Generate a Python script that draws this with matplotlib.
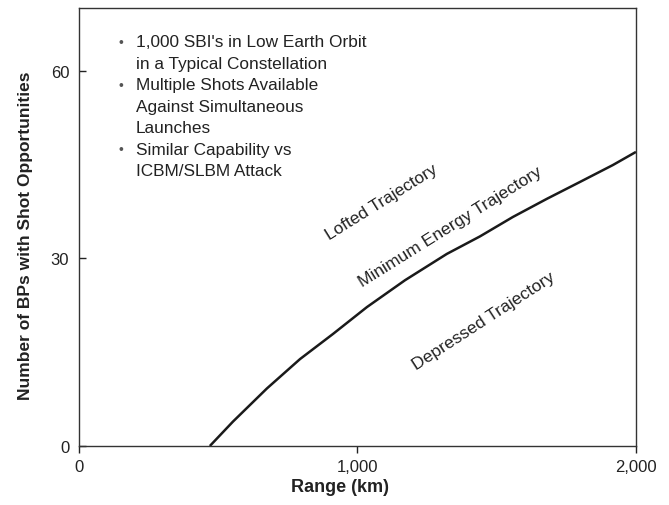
import matplotlib
matplotlib.use("Agg")
import matplotlib.pyplot as plt

# data
range_km = [470, 553, 675, 794, 912, 1034, 1171, 1321, 1440, 1558, 1680, 1799, 1917, 2000]
bps = [0, 3.9, 9.2, 13.9, 17.9, 22.2, 26.5, 30.7, 33.5, 36.6, 39.5, 42.2, 44.9, 47.0]

xticks = [0, 1000, 2000]
xtick_labels = ["0", "1,000", "2,000"]
yticks = [0, 30, 60]

bullets = [
    ["1,000 SBI's in Low Earth Orbit", "in a Typical Constellation"],
    ["Multiple Shots Available", "Against Simultaneous", "Launches"],
    ["Similar Capability vs", "ICBM/SLBM Attack"],
]

plt.rcParams['font.family'] = ['Liberation Sans', 'DejaVu Sans']
ink = "#222222"

fig = plt.figure(figsize=(6.69, 5.06), dpi=100)
ax = fig.add_axes([0.118, 0.1166, 0.8326, 0.8656])

ax.plot(range_km, bps, c="#1a1a1a", lw=1.8, solid_capstyle="butt", solid_joinstyle="round")

ax.set_xlim(0, 2000)
ax.set_ylim(0, 70)
ax.set_xticks(xticks)
ax.set_xticklabels(xtick_labels)
ax.set_yticks(yticks)
ax.tick_params(axis="y", direction="in", length=5, width=1, labelsize=12, pad=7, colors=ink)
ax.tick_params(axis="x", direction="out", length=5, width=1, labelsize=12, pad=4, colors=ink)
for s in ax.spines.values():
    s.set_color("#333333")
    s.set_linewidth(1.0)

ax.set_xlabel("Range (km)", fontsize=13, fontweight="bold", color=ink)
ax.xaxis.set_label_coords(0.469, -0.072)
ax.set_ylabel("Number of BPs with Shot Opportunities", fontsize=12.5, fontweight="bold", color=ink)
ax.yaxis.set_label_coords(-0.083, 0.483)

# bullet list
line_y = 64.6
step = 3.43
for group in bullets:
    ax.text(151, line_y, "\u2022", fontsize=10, color="#555555", ha="center", va="center")
    for line in group:
        ax.text(205, line_y, line, fontsize=12.4, color=ink, ha="left", va="center")
        line_y -= step

# region labels
ax.text(1088, 39.0, "Lofted Trajectory", rotation=32, fontsize=12.4, color=ink,
        ha="center", va="center", rotation_mode="anchor")
ax.text(1332, 35.1, "Minimum Energy Trajectory", rotation=32, fontsize=12.6, color=ink,
        ha="center", va="center", rotation_mode="anchor")
ax.text(1454, 20.0, "Depressed Trajectory", rotation=33, fontsize=12.6, color=ink,
        ha="center", va="center", rotation_mode="anchor")

plt.savefig("out.png", dpi=100)
